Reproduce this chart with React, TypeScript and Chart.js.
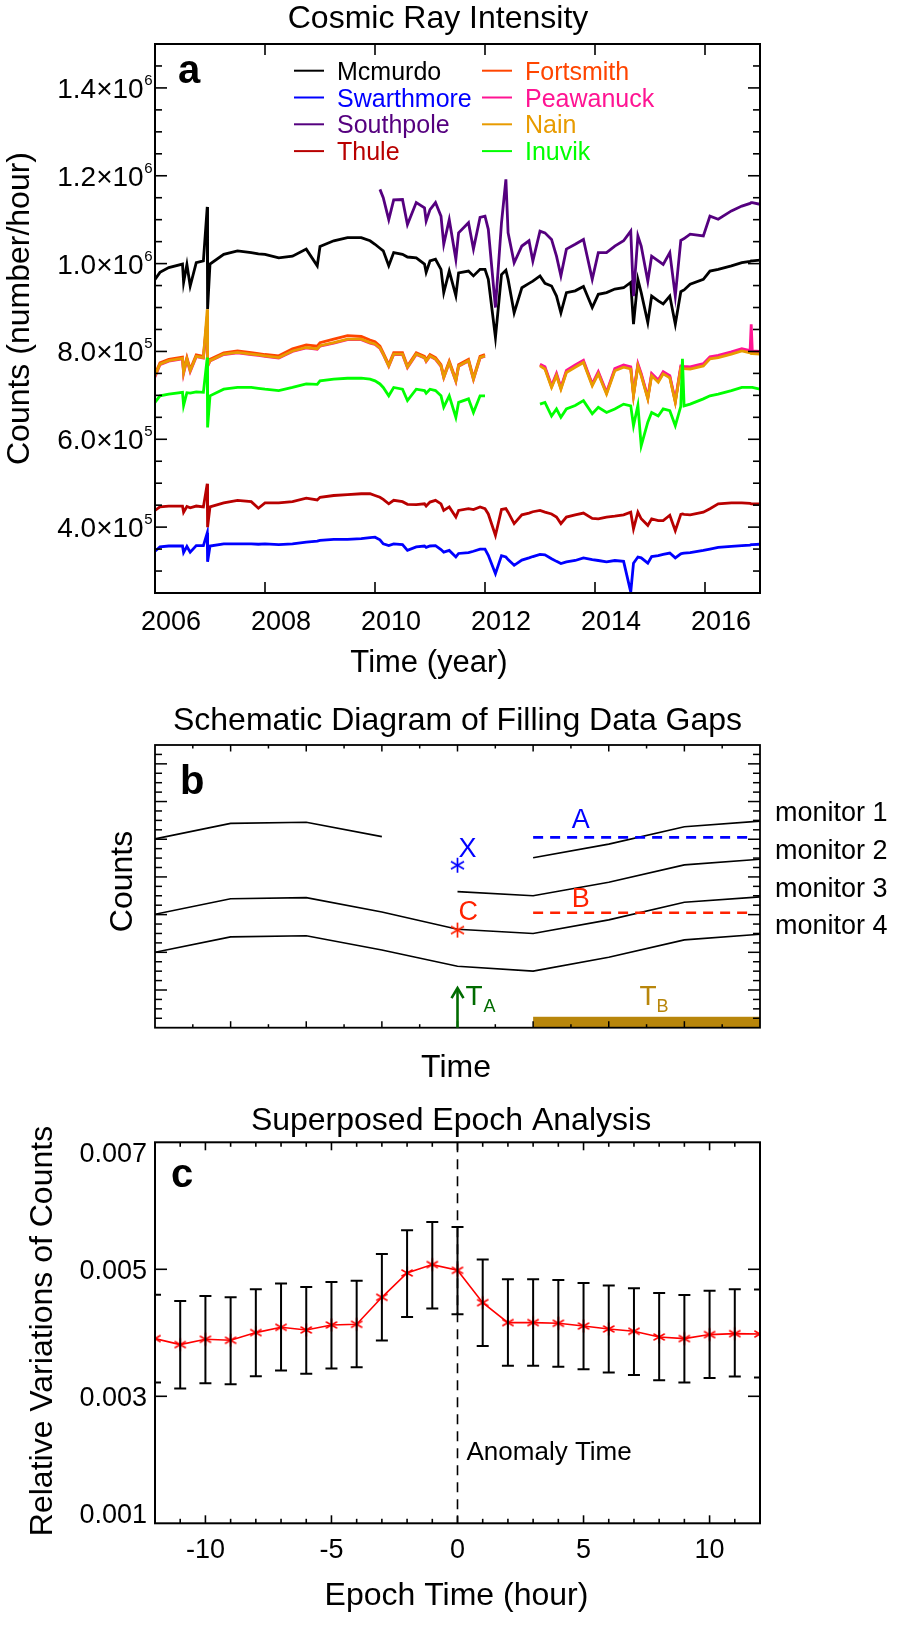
import React, { useEffect, useRef } from 'react';
import { Chart, registerables } from 'chart.js';

Chart.register(...registerables);

const FONT = '"Liberation Sans", Arial, Helvetica, sans-serif';

// ---------------- Panel a : cosmic ray intensity (counts in thousands / hour) ----------------
const yearGrid = [
  2006.00, 2006.09, 2006.25, 2006.50, 2006.52, 2006.58, 2006.64, 2006.75, 2006.88, 2006.950,
  2006.956, 2007.00, 2007.25, 2007.50, 2007.75, 2007.88, 2008.00, 2008.25, 2008.50, 2008.75,
  2008.95, 2009.00, 2009.25, 2009.50, 2009.75, 2009.91, 2010.00, 2010.09, 2010.15, 2010.25,
  2010.34, 2010.50, 2010.59, 2010.75, 2010.90, 2010.93, 2011.00, 2011.10, 2011.20, 2011.25,
  2011.35, 2011.47, 2011.52, 2011.70, 2011.79, 2011.91, 2012.00, 2012.06, 2012.19, 2012.30,
  2012.38, 2012.42, 2012.53, 2012.67, 2012.80, 2012.87, 2013.00, 2013.09, 2013.21, 2013.30,
  2013.38, 2013.48, 2013.64, 2013.79, 2013.95, 2014.06, 2014.21, 2014.36, 2014.52, 2014.65,
  2014.70, 2014.78, 2014.84, 2014.96, 2015.03, 2015.15, 2015.24, 2015.36, 2015.46, 2015.56,
  2015.59, 2015.62, 2015.73, 2015.97, 2016.09, 2016.24, 2016.48, 2016.67, 2016.82, 2016.84,
  2016.86, 2017.00,
];

const mcmurdo = [
  964, 980, 991, 999, 957, 998, 949, 1002, 1006, 1129,
  896, 999, 1021, 1029, 1025, 1022, 1021, 1013, 1017, 1033,
  995, 1039, 1052, 1059, 1059, 1052, 1044, 1035, 1029, 995,
  1025, 1021, 1015, 1013, 999, 980, 1006, 1010, 987, 934,
  983, 927, 979, 983, 972, 987, 987, 964, 832, 975,
  985, 964, 888, 945, 955, 960, 972, 955, 949, 926,
  888, 934, 938, 948, 900, 930, 934, 942, 945, 957,
  862, 964, 934, 866, 926, 915, 908, 926, 862, 936,
  938, 940, 953, 964, 983, 987, 995, 1002, 1005, 1006,
  1006, 1008,
];

const swarthmore = [
  345, 355, 357, 357, 342, 356, 343, 358, 358, 387,
  321, 357, 362, 362, 362, 361, 362, 360, 362, 366,
  368, 370, 372, 372, 374, 376, 377, 371, 362, 358,
  362, 360, 347, 355, 357, 354, 357, 358, 349, 343,
  347, 332, 340, 342, 345, 350, 350, 336, 294, 335,
  332, 326, 313, 325, 330, 333, 338, 337, 328, 322,
  317, 321, 324, 330, 326, 324, 321, 324, 322, 252,
  318, 332, 330, 318, 333, 335, 338, 341, 330, 339,
  340, 341, 342, 347, 350, 354, 356, 358, 359, 360,
  360, 361,
];

const southpole = [
  null, null, null, null, null, null, null, null, null, null,
  null, null, null, null, null, null, null, null, null, null,
  null, null, null, null, null, null, null, 1169, 1150, 1100,
  1145, 1146, 1089, 1139, 1127, 1097, 1123, 1139, 1108, 1044,
  1100, 1010, 1070, 1093, 1033, 1105, 1108, 1078, 900, 1093,
  1192, 1070, 1002, 1040, 1052, 1006, 1074, 1070, 1055, 1017,
  972, 1033, 1044, 1055, 964, 1025, 1025, 1040, 1052, 1074,
  926, 1063, 1040, 960, 1017, 1006, 998, 1025, 926, 1053,
  1055, 1057, 1067, 1063, 1108, 1101, 1120, 1131, 1137, 1139,
  1139, 1135,
];

const thule = [
  438, 446, 448, 448, 434, 447, 444, 448, 446, 499,
  400, 446, 455, 461, 458, 443, 455, 455, 458, 466,
  462, 468, 472, 474, 476, 476, 472, 468, 463, 453,
  461, 458, 452, 451, 453, 448, 457, 461, 453, 438,
  446, 423, 438, 442, 440, 446, 442, 430, 381, 440,
  442, 434, 408, 428, 432, 435, 438, 434, 430, 423,
  408, 423, 428, 432, 420, 419, 423, 425, 428, 434,
  396, 434, 419, 404, 419, 415, 415, 427, 392, 429,
  430, 429, 428, 434, 442, 453, 455, 455, 454, 453,
  453, 453,
];

const fortsmith = [
  748, 774, 782, 787, 755, 786, 759, 792, 789, 880,
  770, 782, 797, 801, 797, 795, 793, 790, 806, 815,
  812, 820, 828, 836, 834, 826, 822, 812, 797, 770,
  797, 797, 767, 797, 789, 781, 793, 786, 770, 744,
  778, 736, 770, 782, 740, 789, 793, null, null, null,
  null, null, null, null, null, null, 769, 762, 720, 747,
  716, 754, 766, 777, 724, 751, 705, 758, 766, 762,
  701, 769, 747, 694, 747, 732, 751, 742, 686, 764,
  764, 763, 762, 769, 785, 788, 796, 803, 799, 797,
  797, 796,
];

const peawanuck = [
  742, 770, 778, 783, 750, 782, 754, 788, 785, 870,
  766, 778, 793, 797, 793, 791, 789, 785, 800, 808,
  805, 812, 819, 827, 827, 819, 816, 807, 793, 766,
  793, 793, 763, 793, 785, 777, 789, 782, 766, 740,
  774, 732, 766, 778, 736, 785, 789, null, null, null,
  null, null, null, null, null, null, 771, 765, 722, 750,
  718, 757, 769, 780, 726, 754, 707, 761, 769, 765,
  703, 772, 750, 696, 750, 735, 754, 745, 688, 767,
  767, 766, 765, 772, 788, 791, 799, 806, 802, 862,
  801, 800,
];

const nain = [
  745, 771, 779, 784, 752, 783, 756, 789, 786, 896,
  767, 779, 794, 798, 794, 792, 790, 786, 801, 809,
  806, 813, 820, 828, 828, 820, 817, 808, 794, 767,
  794, 794, 764, 794, 786, 778, 790, 783, 767, 741,
  775, 733, 767, 779, 737, 786, 790, null, null, null,
  null, null, null, null, null, null, 767, 760, 718, 745,
  714, 752, 764, 775, 722, 749, 703, 756, 764, 760,
  699, 767, 745, 692, 745, 730, 749, 740, 684, 762,
  762, 761, 760, 767, 783, 786, 794, 801, 797, 795,
  795, 794,
];

const inuvik = [
  684, 699, 703, 707, 677, 706, 705, 708, 707, 786,
  627, 699, 714, 718, 718, 716, 714, 711, 718, 726,
  725, 733, 737, 739, 739, 737, 733, 726, 718, 699,
  718, 714, 688, 714, 711, 705, 714, 711, 699, 673,
  699, 650, 684, 692, 661, 699, 699, null, null, null,
  null, null, null, null, null, null, 680, 684, 653, 669,
  650, 669, 677, 688, 658, 673, 661, 669, 680, 676,
  631, 677, 585, 639, 661, 653, 669, 665, 631, 675,
  783, 676, 680, 692, 699, 703, 711, 718, 718, 718,
  718, 714,
];

const stationNames = ['Mcmurdo', 'Swarthmore', 'Southpole', 'Thule', 'Fortsmith', 'Peawanuck', 'Nain', 'Inuvik'];
const stationSeries = [mcmurdo, swarthmore, southpole, thule, fortsmith, peawanuck, nain, inuvik];
const stationColors = ['#000000', '#0000FF', '#55007F', '#B80000', '#FF4500', '#FF1493', '#E89B00', '#00FF00'];
const drawOrderTopFirst = [7, 6, 5, 4, 2, 0, 3, 1];

const yearTicks = [2006, 2008, 2010, 2012, 2014, 2016];
const yearTickLabels = ['2006', '2008', '2010', '2012', '2014', '2016'];
const countMajorTicks = [400, 600, 800, 1000, 1200, 1400];
const countTickMantissa = ['4.0\u00d710', '6.0\u00d710', '8.0\u00d710', '1.0\u00d710', '1.2\u00d710', '1.4\u00d710'];
const countTickExponent = ['5', '5', '5', '6', '6', '6'];

// ---------------- Panel b : schematic ----------------
const schemTimes = [0, 1, 2, 3, 4, 5, 6, 7, 8];
const monitor1 = [5.01, 5.42, 5.45, 5.07, null, 4.51, 4.87, 5.33, 5.48];
const monitor2 = [null, null, null, null, 3.61, 3.50, 3.86, 4.32, 4.47];
const monitor3 = [3.01, 3.42, 3.45, 3.07, 2.61, 2.50, 2.86, 3.33, 3.47];
const monitor4 = [2.00, 2.41, 2.44, 2.06, 1.63, 1.50, 1.87, 2.33, 2.48];
const monitorLabels = ['monitor 1', 'monitor 2', 'monitor 3', 'monitor 4'];
const pointX = { t: 4, v: 4.31 };
const pointC = { t: 4, v: 2.59 };
const levelA = { from: 5, to: 7.91, v: 5.05 };
const levelB = { from: 5, to: 7.91, v: 3.05 };
const timeA = 4;
const spanB = { from: 5, to: 8, height: 0.29 };

// ---------------- Panel c : superposed epoch analysis ----------------
const epochHours = [-12, -11, -10, -9, -8, -7, -6, -5, -4, -3, -2, -1, 0, 1, 2, 3, 4, 5, 6, 7, 8, 9, 10, 11, 12];
const meanVariation = [
  0.003909, 0.003814, 0.003898, 0.003882, 0.004003, 0.004087, 0.004045, 0.004123, 0.004134, 0.004559,
  0.004942, 0.005074, 0.004984, 0.004475, 0.004161, 0.004161, 0.004150, 0.004107, 0.004060, 0.004024,
  0.003934, 0.003909, 0.003972, 0.003987, 0.003981,
];
const errUpper = [
  0.004600, 0.004501, 0.004580, 0.004559, 0.004685, 0.004775, 0.004722, 0.004800, 0.004821, 0.005241,
  0.005614, 0.005745, 0.005666, 0.005153, 0.004843, 0.004843, 0.004832, 0.004785, 0.004743, 0.004701,
  0.004627, 0.004596, 0.004664, 0.004685, 0.004680,
];
const errLower = [
  0.003216, 0.003121, 0.003205, 0.003189, 0.003315, 0.003405, 0.003357, 0.003436, 0.003457, 0.003877,
  0.004249, 0.004381, 0.004291, 0.003792, 0.003483, 0.003483, 0.003467, 0.003425, 0.003373, 0.003336,
  0.003252, 0.003216, 0.003288, 0.003310, 0.003295,
];
const epochMajorTicks = [-10, -5, 0, 5, 10];
const epochTickLabels = ['-10', '-5', '0', '5', '10'];
const variationTicks = [0.001, 0.003, 0.005, 0.007];
const variationTickLabels = ['0.001', '0.003', '0.005', '0.007'];

// ---------------- helpers ----------------
function seg(ctx, x1, y1, x2, y2) {
  ctx.beginPath();
  ctx.moveTo(x1, y1);
  ctx.lineTo(x2, y2);
  ctx.stroke();
}

function text(ctx, s, x, y, size, opts: any = {}) {
  const { color = '#000', align = 'left', bold = false } = opts;
  ctx.font = `${bold ? 'bold ' : ''}${size}px ${FONT}`;
  ctx.fillStyle = color;
  ctx.textAlign = align;
  ctx.textBaseline = 'alphabetic';
  ctx.fillText(s, x, y);
}

function vtext(ctx, s, x, cy, size) {
  ctx.save();
  ctx.translate(x, cy);
  ctx.rotate(-Math.PI / 2);
  text(ctx, s, 0, 0, size, { align: 'center' });
  ctx.restore();
}

function makeAsterisk(color, arm, lw) {
  const s = Math.ceil(arm * 2 + lw * 2 + 2);
  const c = document.createElement('canvas');
  c.width = s;
  c.height = s;
  const g = c.getContext('2d');
  g.strokeStyle = color;
  g.lineWidth = lw;
  const cx = s / 2;
  const cy = s / 2;
  [90, 30, 150].forEach((deg) => {
    const r = (deg * Math.PI) / 180;
    const dx = Math.cos(r) * arm;
    const dy = Math.sin(r) * arm;
    g.beginPath();
    g.moveTo(cx - dx, cy - dy);
    g.lineTo(cx + dx, cy + dy);
    g.stroke();
  });
  return c;
}

const baseOptions = (padding, xr, yr) => ({
  responsive: false,
  animation: false,
  devicePixelRatio: 1,
  events: [],
  layout: { padding },
  scales: {
    x: { type: 'linear', min: xr[0], max: xr[1], display: false },
    y: { type: 'linear', min: yr[0], max: yr[1], display: false },
  },
  plugins: { legend: { display: false }, tooltip: { enabled: false }, title: { display: false } },
});

// ---------------- panel a plugin ----------------
const panelAPlugin = {
  id: 'panelA',
  afterDraw(chart) {
    const { ctx, chartArea: a } = chart;
    const xs = chart.scales.x;
    const ys = chart.scales.y;
    ctx.save();
    ctx.strokeStyle = '#000';
    ctx.lineWidth = 2;
    ctx.strokeRect(a.left, a.top, a.right - a.left, a.bottom - a.top);
    ctx.lineWidth = 1.6;
    for (let v = 300; v < 1500; v += 50) {
      const py = ys.getPixelForValue(v);
      const len = v % 200 === 0 ? 12 : 7;
      seg(ctx, a.left, py, a.left + len, py);
      seg(ctx, a.right, py, a.right - len, py);
    }
    yearTicks.forEach((t, i) => {
      const px = xs.getPixelForValue(t);
      if (i > 0) {
        seg(ctx, px, a.bottom, px, a.bottom - 11);
        seg(ctx, px, a.top, px, a.top + 11);
      }
      text(ctx, yearTickLabels[i], px + 16, a.bottom + 37, 27, { align: 'center' });
    });
    countMajorTicks.forEach((v, i) => {
      const py = ys.getPixelForValue(v);
      ctx.font = `28px ${FONT}`;
      const w1 = ctx.measureText(countTickMantissa[i]).width;
      ctx.font = `15px ${FONT}`;
      const w2 = ctx.measureText(countTickExponent[i]).width;
      const x0 = a.left - 3 - w1 - w2;
      text(ctx, countTickMantissa[i], x0, py + 10, 28);
      text(ctx, countTickExponent[i], x0 + w1 + 0.5, py - 3, 15);
    });
    text(ctx, 'Cosmic Ray Intensity', 438, 28, 32, { align: 'center' });
    text(ctx, 'Time (year)', 429, 672, 31, { align: 'center' });
    vtext(ctx, 'Counts (number/hour)', 28.5, 308.5, 32);
    text(ctx, 'a', 178, 83, 40, { bold: true });
    // legend
    stationNames.forEach((name, i) => {
      const col = Math.floor(i / 4);
      const row = i % 4;
      const ly = 70.7 + row * 26.8;
      const lx = col === 0 ? 294 : 482;
      ctx.strokeStyle = stationColors[i];
      ctx.lineWidth = 2;
      seg(ctx, lx, ly, lx + 30, ly);
      text(ctx, name, lx + 43, ly + 9, 25, { color: stationColors[i] });
    });
    ctx.restore();
  },
};

// ---------------- panel b plugin ----------------
const panelBPlugin = {
  id: 'panelB',
  afterDraw(chart) {
    const { ctx, chartArea: a } = chart;
    const xs = chart.scales.x;
    const ys = chart.scales.y;
    ctx.save();
    // T_B bar
    ctx.fillStyle = '#B8860B';
    const bx0 = xs.getPixelForValue(spanB.from);
    const bx1 = xs.getPixelForValue(spanB.to);
    const by0 = ys.getPixelForValue(spanB.height);
    const by1 = ys.getPixelForValue(0);
    ctx.fillRect(bx0, by0, bx1 - bx0, by1 - by0);
    // frame
    ctx.strokeStyle = '#000';
    ctx.lineWidth = 1.8;
    ctx.strokeRect(a.left, a.top, a.right - a.left, a.bottom - a.top);
    ctx.lineWidth = 1.5;
    for (let v = 0.25; v < 7.5; v += 0.25) {
      const py = ys.getPixelForValue(v);
      const len = Math.abs(v - Math.round(v)) < 1e-6 ? 12 : 7;
      seg(ctx, a.left, py, a.left + len, py);
      seg(ctx, a.right, py, a.right - len, py);
    }
    for (let v = 0.5; v < 8; v += 0.5) {
      const px = xs.getPixelForValue(v);
      const len = Math.abs(v - Math.round(v)) < 1e-6 ? 6.5 : 3.5;
      seg(ctx, px, a.bottom, px, a.bottom - len);
      seg(ctx, px, a.top, px, a.top + len);
    }
    // T_A arrow
    const ax = xs.getPixelForValue(timeA);
    const tipY = ys.getPixelForValue(1.05);
    ctx.strokeStyle = '#006B00';
    ctx.lineWidth = 2.6;
    seg(ctx, ax, a.bottom, ax, tipY + 1);
    ctx.beginPath();
    ctx.moveTo(ax - 6, tipY + 10);
    ctx.lineTo(ax, tipY);
    ctx.lineTo(ax + 6, tipY + 10);
    ctx.stroke();
    text(ctx, 'T', ax + 8, a.bottom - 23, 28, { color: '#006B00' });
    text(ctx, 'A', ax + 26, a.bottom - 16, 18, { color: '#006B00' });
    text(ctx, 'T', xs.getPixelForValue(6.5) - 7, a.bottom - 23, 28, { color: '#B8860B' });
    text(ctx, 'B', xs.getPixelForValue(6.5) + 10, a.bottom - 16, 18, { color: '#B8860B' });
    // letters
    text(ctx, 'A', xs.getPixelForValue(5.63), ys.getPixelForValue(levelA.v) - 9, 27, { color: '#0000FF', align: 'center' });
    text(ctx, 'B', xs.getPixelForValue(5.63), ys.getPixelForValue(levelB.v) - 6, 27, { color: '#FF2200', align: 'center' });
    text(ctx, 'X', xs.getPixelForValue(pointX.t) + 1, ys.getPixelForValue(pointX.v) - 8, 27, { color: '#0000FF' });
    text(ctx, 'C', xs.getPixelForValue(pointC.t) + 1, ys.getPixelForValue(pointC.v) - 10, 27, { color: '#FF2200' });
    // monitor labels
    [monitor1, monitor2, monitor3, monitor4].forEach((m, i) => {
      const py = ys.getPixelForValue(m[m.length - 1]);
      text(ctx, monitorLabels[i], a.right + 15, py, 27);
    });
    text(ctx, 'Schematic Diagram of Filling Data Gaps', 457.5, 39.5, 32, { align: 'center' });
    text(ctx, 'Time', 456, 386.5, 32, { align: 'center' });
    vtext(ctx, 'Counts', 131.5, 191.5, 32);
    text(ctx, 'b', 180, 103.5, 40, { bold: true });
    ctx.restore();
  },
};

// ---------------- panel c plugin ----------------
const panelCPlugin = {
  id: 'panelC',
  beforeDatasetsDraw(chart) {
    const { ctx, chartArea: a } = chart;
    const px = chart.scales.x.getPixelForValue(0);
    ctx.save();
    ctx.strokeStyle = '#000';
    ctx.lineWidth = 1.6;
    ctx.setLineDash([10, 7]);
    seg(ctx, px, a.top, px, a.bottom);
    ctx.restore();
  },
  afterDatasetsDraw(chart) {
    const { ctx, chartArea: a } = chart;
    const xs = chart.scales.x;
    const ys = chart.scales.y;
    ctx.save();
    ctx.beginPath();
    ctx.rect(a.left, a.top, a.right - a.left, a.bottom - a.top);
    ctx.clip();
    ctx.strokeStyle = '#000';
    ctx.lineWidth = 2;
    epochHours.forEach((h, i) => {
      const px = xs.getPixelForValue(h);
      const yt = ys.getPixelForValue(errUpper[i]);
      const yb = ys.getPixelForValue(errLower[i]);
      seg(ctx, px, yt, px, yb);
      seg(ctx, px - 6, yt, px + 6, yt);
      seg(ctx, px - 6, yb, px + 6, yb);
    });
    ctx.restore();
  },
  afterDraw(chart) {
    const { ctx, chartArea: a } = chart;
    const xs = chart.scales.x;
    const ys = chart.scales.y;
    ctx.save();
    ctx.strokeStyle = '#000';
    ctx.lineWidth = 2;
    ctx.strokeRect(a.left, a.top, a.right - a.left, a.bottom - a.top);
    ctx.lineWidth = 1.6;
    for (let h = -11; h <= 11; h++) {
      const px = xs.getPixelForValue(h);
      const len = h % 5 === 0 ? 8 : 4.5;
      seg(ctx, px, a.bottom, px, a.bottom - len);
      seg(ctx, px, a.top, px, a.top + len);
    }
    variationTicks.forEach((v, i) => {
      const py = ys.getPixelForValue(v);
      if (py > a.top + 1 && py < a.bottom - 1) {
        seg(ctx, a.left, py, a.left + 12, py);
        seg(ctx, a.right, py, a.right - 12, py);
      }
      const cy = Math.min(Math.max(py, a.top + 9.5), a.bottom - 10);
      text(ctx, variationTickLabels[i], a.left - 8, cy + 9.7, 27, { align: 'right' });
    });
    epochMajorTicks.forEach((h, i) => {
      text(ctx, epochTickLabels[i], xs.getPixelForValue(h), a.bottom + 35, 27, { align: 'center' });
    });
    text(ctx, 'Anomaly Time', xs.getPixelForValue(0) + 9, 370, 26);
    text(ctx, 'Superposed Epoch Analysis', 451, 40, 32, { align: 'center' });
    text(ctx, 'Epoch Time (hour)', 456.5, 515, 32, { align: 'center' });
    vtext(ctx, 'Relative Variations of Counts', 52, 241, 32);
    text(ctx, 'c', 171, 97, 40, { bold: true });
    ctx.restore();
  },
};

export default function App() {
  const refA = useRef(null);
  const refB = useRef(null);
  const refC = useRef(null);

  useEffect(() => {
    // ----- panel a -----
    const chartA = new Chart(refA.current, {
      type: 'line',
      data: {
        datasets: drawOrderTopFirst.map((i) => ({
          label: stationNames[i],
          data: yearGrid.map((t, k) => ({ x: t, y: stationSeries[i][k] })),
          borderColor: stationColors[i],
          backgroundColor: stationColors[i],
          borderWidth: 2.8,
          borderJoinStyle: 'miter',
          pointRadius: 0,
          tension: 0,
          spanGaps: false,
        })),
      },
      options: baseOptions({ left: 155, right: 138, top: 44, bottom: 97 }, [2006, 2017], [250, 1500]),
      plugins: [panelAPlugin],
    } as any);

    // ----- panel b -----
    const astBlue = makeAsterisk('#0000FF', 7.5, 1.7);
    const astRed = makeAsterisk('#FF2200', 7.5, 1.7);
    const monitorSet = (vals) => ({
      data: schemTimes.map((t, k) => ({ x: t, y: vals[k] })),
      borderColor: '#000',
      borderWidth: 1.6,
      pointRadius: 0,
      tension: 0,
      spanGaps: false,
    });
    const chartB = new Chart(refB.current, {
      type: 'line',
      data: {
        datasets: [
          {
            data: [{ x: pointX.t, y: pointX.v }],
            showLine: false,
            pointStyle: astBlue,
            pointRadius: 6,
          },
          {
            data: [{ x: pointC.t, y: pointC.v }],
            showLine: false,
            pointStyle: astRed,
            pointRadius: 6,
          },
          {
            data: [{ x: levelA.from, y: levelA.v }, { x: levelA.to, y: levelA.v }],
            borderColor: '#0000FF',
            borderWidth: 2.6,
            borderDash: [10, 7],
            pointRadius: 0,
          },
          {
            data: [{ x: levelB.from, y: levelB.v }, { x: levelB.to, y: levelB.v }],
            borderColor: '#FF2200',
            borderWidth: 2.6,
            borderDash: [10, 7],
            pointRadius: 0,
          },
          monitorSet(monitor1),
          monitorSet(monitor2),
          monitorSet(monitor3),
          monitorSet(monitor4),
        ],
      },
      options: baseOptions({ left: 155, right: 138, top: 55, bottom: 62.3 }, [0, 8], [0, 7.5]),
      plugins: [panelBPlugin],
    } as any);

    // ----- panel c -----
    const astRedC = makeAsterisk('#FF0000', 6.5, 1.5);
    const chartC = new Chart(refC.current, {
      type: 'line',
      data: {
        datasets: [
          {
            data: epochHours.map((h, k) => ({ x: h, y: meanVariation[k] })),
            borderColor: '#FF0000',
            borderWidth: 1.6,
            pointStyle: astRedC,
            pointRadius: 6,
            tension: 0,
          },
        ],
      },
      options: baseOptions({ left: 155, right: 138, top: 52.3, bottom: 104.7 }, [-12, 12], [0.001, 0.007]),
      plugins: [panelCPlugin],
    } as any);

    return () => {
      chartA.destroy();
      chartB.destroy();
      chartC.destroy();
    };
  }, []);

  return (
    <div style={{ position: 'absolute', left: 0, top: 0, width: 898, height: 1628, background: '#fff' }}>
      <canvas ref={refA} width={898} height={690} style={{ position: 'absolute', left: 0, top: 0 }} />
      <canvas ref={refB} width={898} height={400} style={{ position: 'absolute', left: 0, top: 690 }} />
      <canvas ref={refC} width={898} height={538} style={{ position: 'absolute', left: 0, top: 1090 }} />
    </div>
  );
}
